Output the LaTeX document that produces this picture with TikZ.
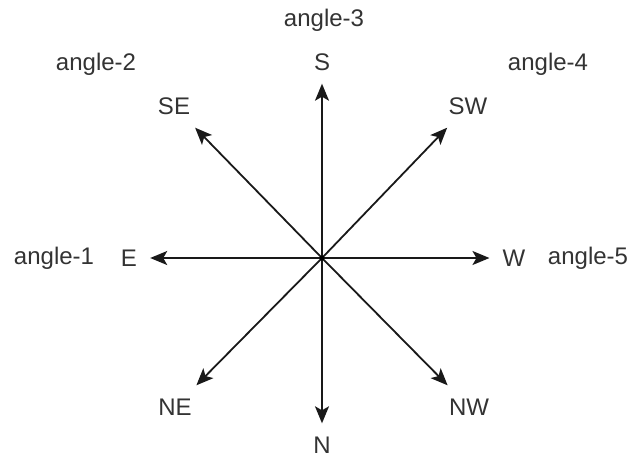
\documentclass[tikz,border=0pt]{standalone}
\usepackage{fontspec}
\setmainfont{Liberation Sans}
\usetikzlibrary{arrows.meta}
\begin{document}
\begin{tikzpicture}[x=1pt,y=-1pt,
  lbl/.style={font=\fontsize{24}{28}\selectfont, text=black!80, inner sep=0pt},
  dir/.style={font=\fontsize{24}{28}\selectfont, text=black!80, inner sep=13pt, text height=17pt, text depth=0pt},
  arr/.style={line width=1.8pt, draw=black!90, -{Stealth[length=17pt,width=14pt,inset=4pt]}}]
\useasboundingbox (0,0) rectangle (634,461);
\coordinate (c) at (322,258);
\node[dir] (S) at (322,62) {S};
\node[dir] (N) at (322,445) {N};
\node[dir] (E) at (129,258) {E};
\node[dir] (W) at (514,258) {W};
\node[dir] (SE) at (174,106) {SE};
\node[dir] (SW) at (468,106) {SW};
\node[dir] (NE) at (175,407) {NE};
\node[dir] (NW) at (469,407) {NW};
\node[lbl] (a1) at (54,258) {angle-1};
\node[lbl] (a2) at (96,64) {angle-2};
\node[lbl] (a3) at (324,20) {angle-3};
\node[lbl] (a4) at (548,64) {angle-4};
\node[lbl] (a5) at (588,258) {angle-5};
\foreach \t in {S,N,E,W,SE,SW,NE,NW} \draw[arr] (c) -- (\t);
\fill[black] (c) circle (2.5pt);
\end{tikzpicture}
\end{document}
